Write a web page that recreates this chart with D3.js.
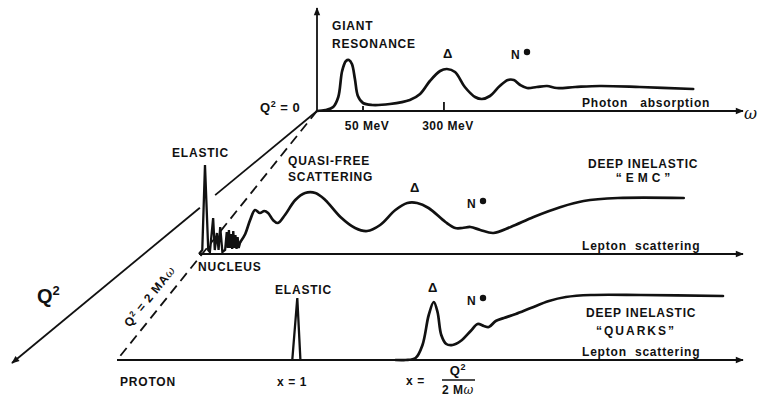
<!DOCTYPE html>
<html lang="en">
<head>
  <meta charset="UTF-8">
  <title>Photon absorption and lepton scattering</title>
  <script src="https://d3js.org/d3.v7.min.js"></script>
  <style>
    body {
      margin: 0;
      background: #fff;
    }

    svg text {
      font-family: "Liberation Sans", Arial, sans-serif;
      font-weight: bold;
      font-size: 12px;
      letter-spacing: 0.8px;
      fill: #111;
    }

    .curve {
      fill: none;
      stroke: #111;
      stroke-width: 2.7px;
      stroke-linejoin: round;
      stroke-linecap: round;
    }

    .spike {
      fill: none;
      stroke: #111;
      stroke-width: 2.3px;
      stroke-linejoin: miter;
    }

    .axis-line {
      stroke: #111;
      stroke-width: 1.8px;
      fill: none;
    }
  </style>
</head>

<body>
  <div id="chart"></div>
  <script>
    // curves as [position along the omega axis (0-100), height]
    const photonCurve = [[0, 0], [2, 1], [3.8, 4], [5, 14], [5.9, 40], [6.8, 50], [7.5, 51], [8.2, 47],
      [8.9, 32], [9.6, 15], [10.8, 8], [12.9, 6], [17.1, 7], [21.8, 11], [24.2, 17], [26.5, 30],
      [28.9, 40], [30.5, 42], [32.4, 39], [34.7, 24], [37.1, 14], [38.7, 12], [40.6, 15], [42.9, 25],
      [44.8, 31], [46.2, 31], [47.7, 26], [49.3, 23], [51.6, 24], [54, 25], [56.3, 23], [60.6, 24],
      [66.4, 25], [75.8, 24], [88.3, 22]];
    const photonTicks = ["50 MeV", "300 MeV"];
    const photonTickAt = [10.8, 29.8];

    const nucleusSpikes = [[0, 0], [0.6, 4], [1.1, 89], [1.7, 4], [2.0, 2], [2.6, 36], [2.9, 4],
      [3.3, 21], [3.6, 4], [3.9, 27], [4.3, 2], [4.8, 4], [5.1, 22], [5.3, 6], [5.5, 24], [5.7, 6],
      [5.9, 20], [6.1, 5], [6.3, 23], [6.5, 6], [6.7, 19], [6.9, 5], [7.1, 17], [7.3, 6], [7.6, 12]];
    const nucleusCurve = [[7.6, 12], [8.5, 20], [9.4, 34], [10.3, 44], [11.2, 41], [12.0, 43],
      [12.7, 41], [13.6, 34], [14.5, 31], [15.8, 39], [17.7, 54], [19.5, 61], [21.4, 61], [23.2, 54],
      [26.0, 37], [28.7, 26], [30.9, 23], [33.3, 29], [36.1, 44], [38.3, 51], [40.1, 51], [42.2, 46],
      [45.3, 32], [47.1, 26], [48.4, 26], [49.9, 27], [51.7, 24], [54.1, 21], [57.3, 27], [61.5, 37],
      [66.5, 47], [70.7, 53], [77, 56], [89.1, 56]];

    const protonElastic = [[28.0, 0], [28.8, 62], [29.3, 0]];
    const protonCurve = [[44.5, 0], [46.1, 0], [47.7, 2], [48.8, 15], [49.8, 45], [50.6, 58], [51.2, 48],
      [51.8, 25], [52.6, 16], [53.6, 15], [54.9, 19], [56.5, 29], [57.6, 36], [58.6, 34], [59.4, 33],
      [60.5, 39], [61.8, 42], [63.7, 46], [66.1, 52], [69, 59], [71.7, 63], [75.7, 65], [83.7, 65],
      [96.8, 64]];

    // layout
    const width = 761, height = 401;
    const panels = {
      photon: {ox: 317, oy: 111, tip: 743},
      nucleus: {ox: 199, oy: 254, tip: 743},
      proton: {ox: 117, oy: 360, tip: 743}
    };
    const tickLen = [5, 9];

    const svg = d3.select("#chart")
      .append("svg")
      .attr("width", width)
      .attr("height", height);

    svg.append("defs").append("marker")
      .attr("id", "arrow")
      .attr("viewBox", "0 0 10 10")
      .attr("refX", 9)
      .attr("refY", 5)
      .attr("markerWidth", 12)
      .attr("markerHeight", 8)
      .attr("markerUnits", "userSpaceOnUse")
      .attr("orient", "auto")
      .append("path")
      .attr("d", "M0,1L10,5L0,9Z")
      .attr("fill", "#111");

    function scales(p) {
      return {
        x: d3.scaleLinear().domain([0, 100]).range([p.ox, p.tip]),
        y: d3.scaleLinear().domain([0, 100]).range([p.oy, p.oy - 100])
      };
    }

    function baseline(s) {
      svg.append("line")
        .attr("class", "axis-line")
        .attr("x1", s.x(0)).attr("y1", s.y(0))
        .attr("x2", s.x(100)).attr("y2", s.y(0))
        .attr("marker-end", "url(#arrow)");
    }

    function plot(s, data, cls, curve) {
      svg.append("path")
        .datum(data)
        .attr("class", cls)
        .attr("d", d3.line().x(d => s.x(d[0])).y(d => s.y(d[1])).curve(curve));
    }

    function label(x, y, txt, opts = {}) {
      const t = svg.append("text")
        .attr("x", x).attr("y", y)
        .attr("text-anchor", opts.anchor || "start")
        .text(txt);
      if (opts.spacing != null) t.style("letter-spacing", opts.spacing + "px");
      if (opts.word != null) t.style("word-spacing", opts.word + "px");
      if (opts.size) t.style("font-size", opts.size + "px");
      return t;
    }

    function nStar(x, y) {
      label(x, y, "N");
      svg.append("circle").attr("cx", x + 16).attr("cy", y - 7).attr("r", 3.2).attr("fill", "#111");
    }

    function omega(sel) {
      return sel.style("font-family", "'DejaVu Serif', serif")
        .style("font-style", "italic")
        .style("font-weight", "normal");
    }

    const smooth = d3.curveCatmullRom.alpha(0.5);

    // diagonal Q2 axis (broken where it passes behind the elastic spike) and dashed Q2 = 2MAw line
    const P = panels.photon, Pr = panels.proton;
    const q2End = [12, 363];
    const along = t => [P.ox + (q2End[0] - P.ox) * t, P.oy + (q2End[1] - P.oy) * t];
    const gapA = along(0.334), gapB = along(0.384);
    svg.append("line").attr("class", "axis-line")
      .attr("x1", P.ox).attr("y1", P.oy).attr("x2", gapA[0]).attr("y2", gapA[1]);
    svg.append("line").attr("class", "axis-line")
      .attr("x1", gapB[0]).attr("y1", gapB[1]).attr("x2", q2End[0]).attr("y2", q2End[1])
      .attr("marker-end", "url(#arrow)");
    svg.append("line").attr("class", "axis-line")
      .attr("x1", P.ox).attr("y1", P.oy).attr("x2", Pr.ox).attr("y2", Pr.oy)
      .style("stroke-dasharray", "10,6");

    // photon absorption panel
    const sp = scales(panels.photon);
    baseline(sp);
    svg.append("line")
      .attr("class", "axis-line")
      .attr("x1", sp.x(0)).attr("y1", sp.y(0))
      .attr("x2", sp.x(0)).attr("y2", 8)
      .attr("marker-end", "url(#arrow)");
    plot(sp, photonCurve, "curve", smooth);
    photonTickAt.forEach((w, i) => {
      svg.append("line").attr("class", "axis-line")
        .attr("x1", sp.x(w)).attr("x2", sp.x(w))
        .attr("y1", sp.y(0)).attr("y2", sp.y(0) - tickLen[i]);
      label(sp.x(w) + 4, 130, photonTicks[i], {anchor: "middle", spacing: 0.5});
    });
    label(332, 30, "GIANT");
    label(332, 48, "RESONANCE");
    label(448, 58, "\u0394", {anchor: "middle", size: 13});
    nStar(511, 59);
    label(582, 107, "Photon absorption", {spacing: 0.8, word: 8});
    const q0 = label(260, 112, "Q", {spacing: 0.5, size: 13});
    q0.append("tspan").attr("dy", -5).style("font-size", "9px").text("2");
    q0.append("tspan").attr("dy", 5).text(" = 0");
    omega(svg.append("text").attr("x", 744).attr("y", 119).style("font-size", "16px").text("\u03c9"));

    // nucleus panel
    const sn = scales(panels.nucleus);
    baseline(sn);
    plot(sn, nucleusSpikes, "spike", d3.curveLinear);
    plot(sn, nucleusCurve, "curve", smooth);
    label(172, 157, "ELASTIC");
    label(288, 165, "QUASI-FREE");
    label(288, 181, "SCATTERING");
    label(415, 192, "\u0394", {anchor: "middle", size: 13});
    nStar(467, 208);
    label(588, 168, "DEEP INELASTIC");
    label(645, 182, "\u201cEMC\u201d", {anchor: "middle", spacing: 4});
    label(582, 250, "Lepton scattering", {spacing: 0.8, word: 4});
    label(198, 271, "NUCLEUS");

    // proton panel
    const sr = scales(panels.proton);
    baseline(sr);
    plot(sr, protonElastic, "spike", d3.curveLinear);
    plot(sr, protonCurve, "curve", smooth);
    label(275, 294, "ELASTIC");
    label(433, 292, "\u0394", {anchor: "middle", size: 13});
    nStar(467, 305);
    label(586, 317, "DEEP INELASTIC");
    label(636, 335, "\u201cQUARKS\u201d", {anchor: "middle", spacing: 2});
    label(582, 356, "Lepton scattering", {spacing: 0.8, word: 4});
    label(120, 386, "PROTON");
    label(277, 386, "x  =  1", {spacing: 0.6});
    label(406, 385, "x  =", {spacing: 0.6});
    const qf = label(458, 375, "Q", {anchor: "middle", size: 13});
    qf.append("tspan").attr("dy", -5).style("font-size", "9px").text("2");
    svg.append("line").attr("class", "axis-line")
      .attr("x1", 442).attr("x2", 475).attr("y1", 380).attr("y2", 380)
      .style("stroke-width", "1.4px");
    const mf = label(458, 394, "2 M", {anchor: "middle", spacing: 0.5});
    omega(mf.append("tspan")).text("\u03c9");

    // Q2 labels on the left
    const bigQ = label(37, 303, "Q", {size: 20, spacing: 0});
    bigQ.append("tspan").attr("dy", -8).style("font-size", "13px").text("2");
    const rot = svg.append("text")
      .attr("transform", "translate(153,299) rotate(-51)")
      .attr("text-anchor", "middle")
      .style("letter-spacing", "0.8px")
      .text("Q");
    rot.append("tspan").attr("dy", -4).style("font-size", "8px").text("2");
    rot.append("tspan").attr("dy", 4).text(" = 2 MA");
    omega(rot.append("tspan")).text("\u03c9");
  </script>
</body>

</html>
